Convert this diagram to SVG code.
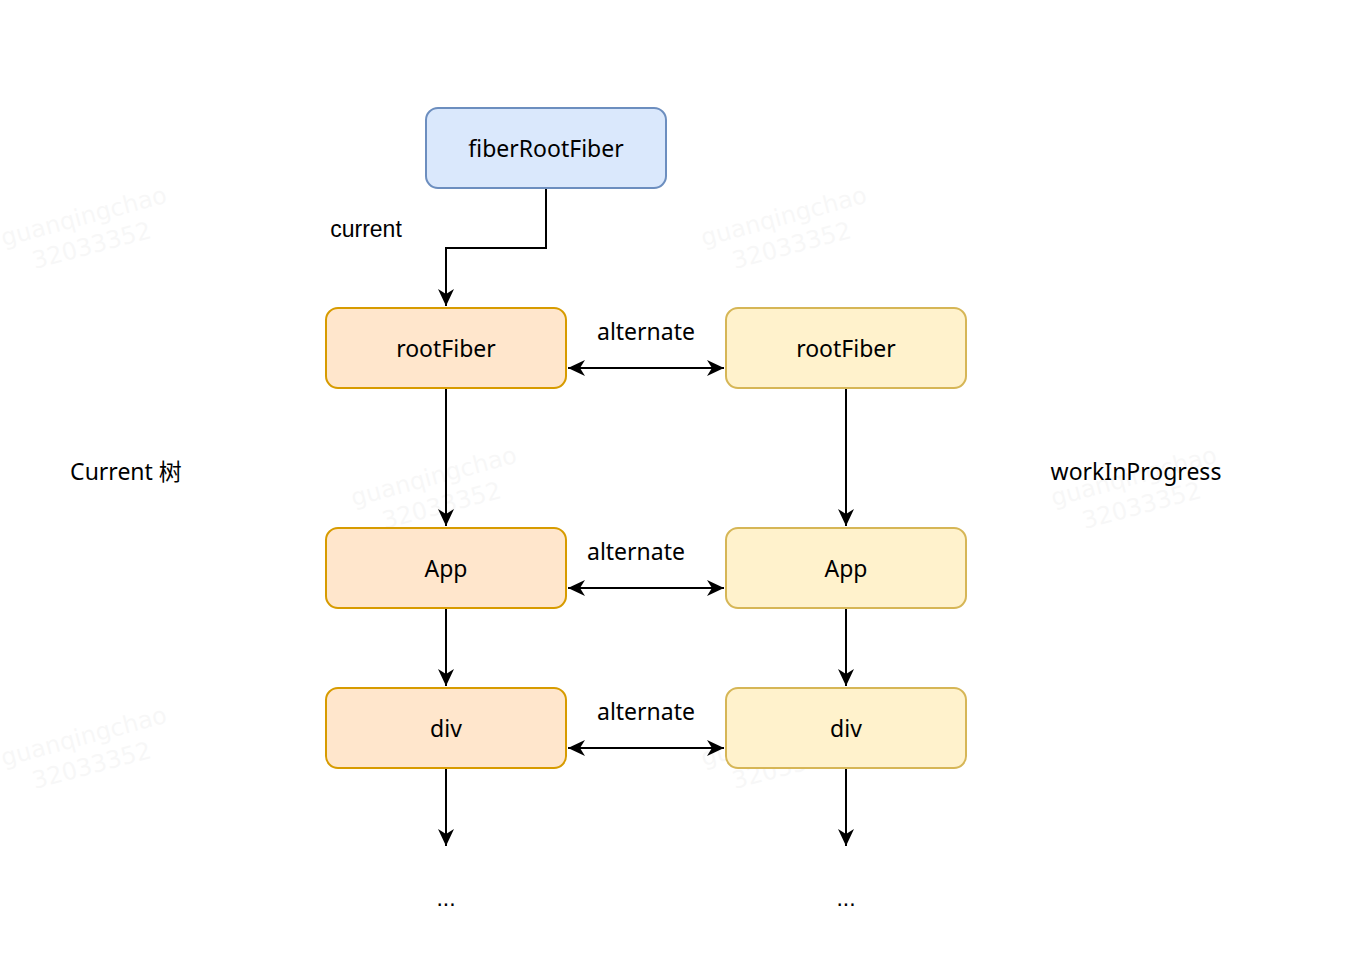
<svg xmlns="http://www.w3.org/2000/svg" width="1362" height="980" viewBox="0 0 1362 980">
<style>
.lbl{font-family:"Comic Sans MS","Noto Sans","Noto Sans CJK SC",sans-serif;font-size:23px;fill:#000;text-anchor:middle;dominant-baseline:central}
.plain{font-family:"Liberation Sans",Arial,sans-serif;font-size:23px;fill:#000;text-anchor:middle;dominant-baseline:central}
.wm{font-family:"DejaVu Sans",sans-serif;font-size:24px;fill:#000;opacity:0.028;text-anchor:middle}
.blue{fill:#dae8fc;stroke:#6c8ebf;stroke-width:2}
.orange{fill:#ffe6cc;stroke:#d79b00;stroke-width:2}
.yellow{fill:#fff2cc;stroke:#d6b656;stroke-width:2}
.edge{fill:none;stroke:#000;stroke-width:2}
</style>
<defs>
<marker id="arrL" viewBox="0 0 18 18" refX="17" refY="9" markerWidth="18" markerHeight="18" markerUnits="userSpaceOnUse" orient="auto-start-reverse">
<path d="M0,1 L17,9 L0,17 L5,9 Z" fill="#000"/>
</marker>
</defs>
<rect width="1362" height="980" fill="#fff"/>
<g id="watermarks">
<g transform="translate(88,232) rotate(-15)"><text class="wm" y="-8">guanqingchao</text><text class="wm" y="22">32033352</text></g>
<g transform="translate(788,232) rotate(-15)"><text class="wm" y="-8">guanqingchao</text><text class="wm" y="22">32033352</text></g>
<g transform="translate(438,492) rotate(-15)"><text class="wm" y="-8">guanqingchao</text><text class="wm" y="22">32033352</text></g>
<g transform="translate(1138,492) rotate(-15)"><text class="wm" y="-8">guanqingchao</text><text class="wm" y="22">32033352</text></g>
<g transform="translate(88,752) rotate(-15)"><text class="wm" y="-8">guanqingchao</text><text class="wm" y="22">32033352</text></g>
<g transform="translate(788,752) rotate(-15)"><text class="wm" y="-8">guanqingchao</text><text class="wm" y="22">32033352</text></g>
</g>
<g id="connectors">
<path class="edge" d="M546,188 V248 H446 V306" marker-end="url(#arrL)"/>
<path class="edge" d="M446,388 V526" marker-end="url(#arrL)"/>
<path class="edge" d="M446,608 V686" marker-end="url(#arrL)"/>
<path class="edge" d="M446,768 V846" marker-end="url(#arrL)"/>
<path class="edge" d="M846,388 V526" marker-end="url(#arrL)"/>
<path class="edge" d="M846,608 V686" marker-end="url(#arrL)"/>
<path class="edge" d="M846,768 V846" marker-end="url(#arrL)"/>
<path class="edge" d="M568,368 H724" marker-start="url(#arrL)" marker-end="url(#arrL)"/>
<path class="edge" d="M568,588 H724" marker-start="url(#arrL)" marker-end="url(#arrL)"/>
<path class="edge" d="M568,748 H724" marker-start="url(#arrL)" marker-end="url(#arrL)"/>
<text class="plain" x="366" y="229">current</text>
<text class="lbl" x="646" y="331">alternate</text>
<text class="lbl" x="636" y="551">alternate</text>
<text class="lbl" x="646" y="711">alternate</text>
</g>
<g id="fiberRootFiber"><rect class="blue" x="426" y="108" width="240" height="80" rx="12"/><text class="lbl" x="546" y="148">fiberRootFiber</text></g>
<g id="rootFiberCurrent"><rect class="orange" x="326" y="308" width="240" height="80" rx="12"/><text class="lbl" x="446" y="348">rootFiber</text></g>
<g id="appCurrent"><rect class="orange" x="326" y="528" width="240" height="80" rx="12"/><text class="lbl" x="446" y="568">App</text></g>
<g id="divCurrent"><rect class="orange" x="326" y="688" width="240" height="80" rx="12"/><text class="lbl" x="446" y="728">div</text></g>
<g id="rootFiberWip"><rect class="yellow" x="726" y="308" width="240" height="80" rx="12"/><text class="lbl" x="846" y="348">rootFiber</text></g>
<g id="appWip"><rect class="yellow" x="726" y="528" width="240" height="80" rx="12"/><text class="lbl" x="846" y="568">App</text></g>
<g id="divWip"><rect class="yellow" x="726" y="688" width="240" height="80" rx="12"/><text class="lbl" x="846" y="728">div</text></g>
<g id="currentTree"><text class="lbl" x="126" y="471">Current 树</text></g>
<g id="workInProgress"><text class="lbl" x="1136" y="471">workInProgress</text></g>
<g id="ellipsisCurrent"><text class="plain" x="446" y="898">...</text></g>
<g id="ellipsisWip"><text class="plain" x="846" y="898">...</text></g>
</svg>
